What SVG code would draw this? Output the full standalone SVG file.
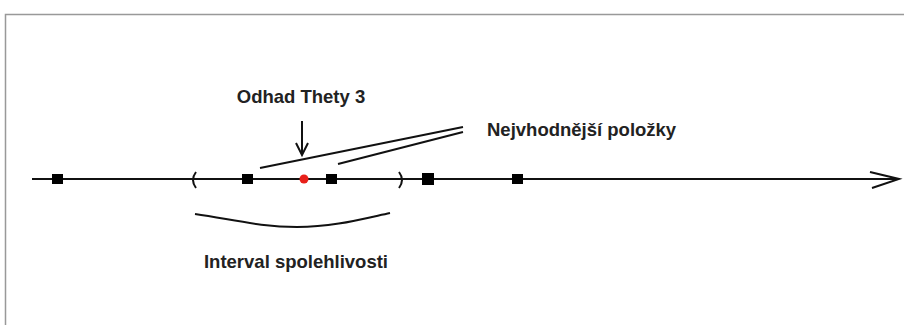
<svg xmlns="http://www.w3.org/2000/svg" width="904" height="325" viewBox="0 0 904 325">
<style>
.t{font-family:"Liberation Sans",Arial,sans-serif;font-weight:bold;font-size:18.5px;fill:#222}
.ln{stroke:#111;fill:none;stroke-width:2}
.sq{fill:#000}
</style>
<rect width="904" height="325" fill="#fff"/>
<path d="M5.5,325 V14.5 H904" stroke="#999" stroke-width="1.5" fill="none"/>
<g id="connectors">
<path class="ln" d="M32,179 H899" stroke-width="3"/>
<path class="ln" d="M870,172 L899,179 L872,188" stroke-width="3"/>
<path class="ln" d="M302,121 V154 M296,143 L302,155 L308,143" stroke-width="1.5"/>
<path class="ln" d="M260,168 L463,127 M338,164 L463,132" stroke-width="1.5"/>
<path class="ln" d="M195,214 C235,220 262,227 297,227 C332,227 358,220 390,213" stroke-width="1.5"/>
<path class="ln" d="M196,172 Q190,180 196,188" stroke-width="1.5"/>
<path class="ln" d="M399,172 Q405,180 399,188" stroke-width="1.5"/>
</g>
<g id="p1"><rect class="sq" x="52" y="174" width="11" height="10"/></g>
<g id="p2"><rect class="sq" x="242" y="174" width="11" height="10"/></g>
<g id="p3"><rect class="sq" x="326" y="174" width="11" height="10"/></g>
<g id="p4"><rect class="sq" x="422" y="173" width="12" height="12"/></g>
<g id="p5"><rect class="sq" x="512" y="174" width="11" height="10"/></g>
<g id="theta"><circle cx="304" cy="179" r="4.5" fill="#e8201a"/></g>
<g id="lbl-odhad"><text class="t" x="301" y="103" text-anchor="middle">Odhad Thety 3</text></g>
<g id="lbl-nejv"><text class="t" x="487" y="136">Nejvhodnější položky</text></g>
<g id="lbl-int"><text class="t" x="296" y="268" text-anchor="middle">Interval spolehlivosti</text></g>
</svg>
